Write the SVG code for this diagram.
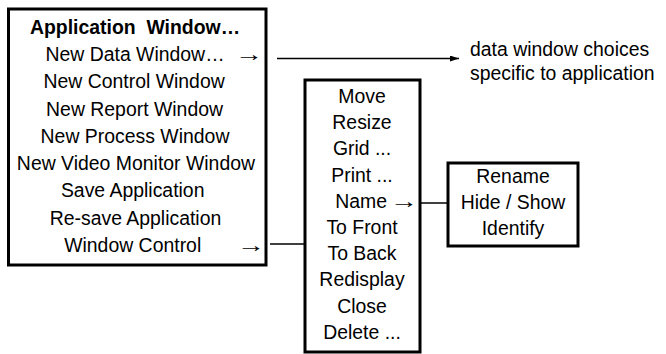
<svg xmlns="http://www.w3.org/2000/svg" width="666" height="354" viewBox="0 0 666 354">
<style>
.box{fill:#fff;stroke:#000;stroke-width:3}
.t{font-family:"Liberation Sans",Arial,sans-serif;font-size:21px;fill:#000;text-anchor:middle}
.b{font-weight:bold}
.s{font-family:"Liberation Sans",Arial,sans-serif;font-size:21px;fill:#000}
.ar{font-family:"Liberation Sans",Arial,sans-serif;font-size:20px;fill:#000}
.c{stroke:#000;stroke-width:1.5;fill:none}
</style>
<defs>
<marker id="ah" viewBox="0 0 10 10" refX="10" refY="5" markerWidth="9" markerHeight="6" markerUnits="userSpaceOnUse" orient="auto" preserveAspectRatio="none">
<path d="M0,0 L10,5 L0,10 z" fill="#000"/>
</marker>
</defs>
<rect width="666" height="354" fill="#fff"/>
<g id="connectors">
<line class="c" x1="277" y1="58.5" x2="459" y2="58.5" marker-end="url(#ah)"/>
<line class="c" x1="270" y1="244" x2="304" y2="244"/>
<line class="c" x1="421" y1="203" x2="447" y2="203"/>
</g>
<g id="app-menu">
<rect class="box" x="8.5" y="9" width="257.5" height="256"/>
<g transform="translate(135,0) scale(0.925,1)">
<text class="t b" x="0" y="34" xml:space="preserve">Application  Window…</text>
<text class="t" x="0" y="61.25">New Data Window…</text>
<text class="t" x="-1" y="88.5">New Control Window</text>
<text class="t" x="-0.5" y="115.75">New Report Window</text>
<text class="t" x="0" y="143">New Process Window</text>
<text class="t" x="1" y="170.25">New Video Monitor Window</text>
<text class="t" x="-2.5" y="197.5">Save Application</text>
<text class="t" x="0.5" y="224.75">Re-save Application</text>
<text class="t" x="-2.5" y="252">Window Control</text>
</g>
<text class="ar" transform="translate(235,61) scale(1.4,1)" x="0" y="0">→</text>
<text class="ar" transform="translate(237,251.5) scale(1.4,1)" x="0" y="0">→</text>
</g>
<g id="window-control-menu">
<rect class="box" x="305" y="80" width="115" height="272"/>
<g transform="translate(362,0) scale(0.925,1)">
<text class="t" x="0" y="103">Move</text>
<text class="t" x="0" y="129.2">Resize</text>
<text class="t" x="0" y="155.4">Grid ...</text>
<text class="t" x="0" y="181.6">Print ...</text>
<text class="t" x="-1" y="207.8">Name</text>
<text class="t" x="0" y="234">To Front</text>
<text class="t" x="0" y="260.2">To Back</text>
<text class="t" x="0" y="286.4">Redisplay</text>
<text class="t" x="0" y="312.6">Close</text>
<text class="t" x="0" y="338.8">Delete ...</text>
</g>
<text class="ar" transform="translate(390,207.5) scale(1.4,1)" x="0" y="0">→</text>
</g>
<g id="name-menu">
<rect class="box" x="448" y="163" width="130" height="83"/>
<g transform="translate(513,0) scale(0.925,1)">
<text class="t" x="0" y="183.5">Rename</text>
<text class="t" x="0" y="209.5">Hide / Show</text>
<text class="t" x="0" y="235">Identify</text>
</g>
</g>
<g id="data-choices">
<g transform="translate(470,0) scale(0.925,1)">
<text class="s" x="0" y="56" xml:space="preserve">data window choices</text>
<text class="s" x="0" y="80">specific to application</text>
</g>
</g>
</svg>
